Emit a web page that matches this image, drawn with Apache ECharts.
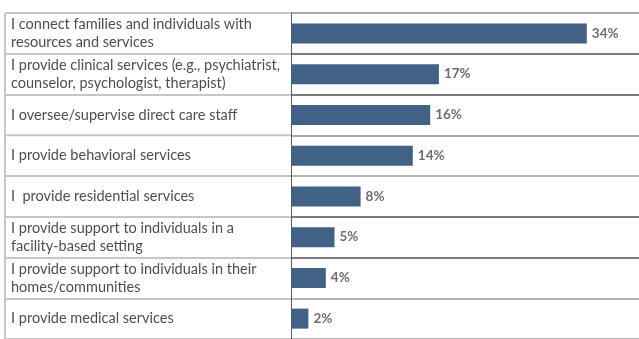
<!DOCTYPE html>
<html>
<head>
<meta charset="utf-8">
<script src="https://cdn.jsdelivr.net/npm/echarts@6/dist/echarts.min.js"></script>
<style>
  html, body { margin: 0; padding: 0; background: #ffffff; }
  #chart { width: 639px; height: 339px; }
</style>
</head>
<body>
<div id="chart"></div>
<script>
// Roles reported by respondents (share of respondents, %)
const roles = [
  'I connect families and individuals with\nresources and services',
  'I provide clinical services (e.g., psychiatrist,\ncounselor, psychologist, therapist)',
  'I oversee/supervise direct care staff',
  'I provide behavioral services',
  'I  provide residential services',
  'I provide support to individuals in a\nfacility-based setting',
  'I provide support to individuals in their\nhomes/communities',
  'I provide medical services'
];
const shares = [34, 17, 16, 14, 8, 5, 4, 2];

const chart = echarts.init(document.getElementById('chart'), null, { renderer: 'canvas' });

chart.setOption({
  animation: false,
  backgroundColor: '#ffffff',
  grid: { left: 291, right: 0, top: 13, height: 328, containLabel: false },
  xAxis: {
    type: 'value',
    min: 0,
    max: 40,
    show: false,
    splitLine: { show: false }
  },
  yAxis: {
    type: 'category',
    data: roles,
    inverse: true,
    boundaryGap: true,
    axisLine: { show: true, lineStyle: { color: '#5a5a5a', width: 1 } },
    axisTick: {
      show: true,
      inside: false,
      length: 286,
      lineStyle: { color: '#c6c6c6', width: 2 }
    },
    splitLine: {
      show: true,
      lineStyle: {
        color: ['#a8a8a8', '#7c7c7c', '#7c7c7c', '#a8a8a8', '#b4b4b4', '#7c7c7c', '#7c7c7c', '#b4b4b4', '#b4b4b4'],
        width: 2
      }
    },
    axisLabel: {
      align: 'left',
      margin: 280,
      color: '#4e4e4e',
      fontFamily: 'Lato',
      fontSize: 14.5,
      lineHeight: 18,
      padding: [3, 0, 0, 0]
    }
  },
  graphic: [
    {
      type: 'line',
      shape: { x1: 5, y1: 13, x2: 5, y2: 339 },
      style: { stroke: '#c6c6c6', lineWidth: 2 },
      z: 10
    }
  ],
  series: [
    {
      type: 'bar',
      data: shares,
      barWidth: 20,
      itemStyle: { color: '#416186' },
      label: {
        show: true,
        position: 'right',
        distance: 5,
        formatter: '{c}%',
        color: '#6e6e6e',
        fontFamily: 'Lato',
        fontSize: 13.5,
        fontWeight: 'bold'
      }
    }
  ]
});
</script>
</body>
</html>
